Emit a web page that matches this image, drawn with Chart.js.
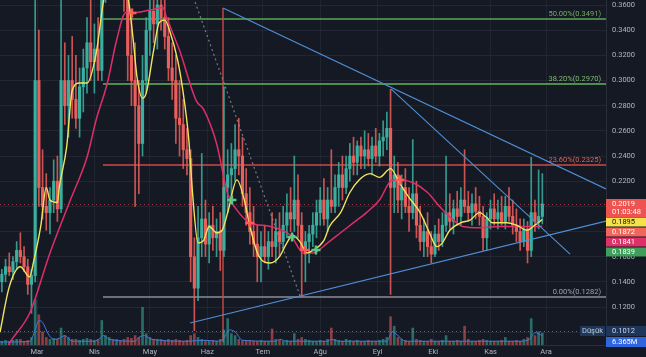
<!DOCTYPE html>
<html><head><meta charset="utf-8">
<script src="https://cdn.jsdelivr.net/npm/chart.js@4.4.1/dist/chart.umd.min.js"></script>
<style>html,body{margin:0;padding:0;background:#151924;overflow:hidden}canvas{display:block}</style>
</head><body>
<canvas id="c" width="646" height="357"></canvas>
<script>
// ---- data (day of year, 2021) ----
const candleDays = [40,42,44,46,48,50,52,54,56,58,60,62,64,66,68,70,72,74,76,78,80,82,84,86,88,90,92,94,96,98,100,102,104,106,108,110,112,114,116,118,120,122,124,126,128,130,132,134,136,138,140,142,144,146,148,150,152,154,156,158,160,162,164,166,168,170,172,174,176,178,180,182,184,186,188,190,192,194,196,198,200,202,204,206,208,210,212,214,216,218,220,222,224,226,228,230,232,234,236,238,240,242,244,246,248,250,252,254,256,258,260,262,264,266,268,270,272,274,276,278,280,282,284,286,288,290,292,294,296,298,300,302,304,306,308,310,312,314,316,318,320,322,324,326,328,330,332];
const opens = [.140,.146,.152,.148,.156,.165,.160,.152,.138,
 .145,.300,.215,.200,.195,.205,.220,.198,.300,
 .280,.300,.285,.270,.295,.310,.330,.315,.325,
 .308,.365,.385,.395,.385,.400,.380,.370,.320,
 .300,.280,.250,.300,.340,.355,.345,.360,.350,
 .335,.310,.300,.270,.265,.245,.238,.160,.135,
 .175,.190,.170,.185,.175,.180,.165,.215,.225,
 .230,.245,.240,.210,.195,.180,.170,.160,.168,
 .160,.172,.168,.180,.172,.185,.195,.190,.205,
 .185,.165,.172,.178,.185,.195,.205,.190,.205,
 .200,.215,.225,.215,.230,.240,.235,.248,.240,
 .245,.238,.248,.240,.252,.255,.262,.215,.225,
 .205,.215,.200,.195,.210,.185,.172,.180,.168,
 .162,.178,.172,.185,.195,.188,.198,.192,.205,
 .200,.195,.202,.196,.192,.175,.190,.198,.190,
 .195,.188,.200,.192,.185,.180,.172,.182,.165,
 .195,.188,.192];
const highs = [.150,.158,.163,.160,.172,.179,.168,.158,.150,
 .400,.340,.245,.226,.215,.237,.240,.380,.330,
 .320,.335,.320,.310,.325,.350,.370,.345,.350,
 .385,.400,.410,.420,.415,.420,.405,.385,.355,
 .330,.300,.320,.350,.370,.380,.375,.385,.370,
 .350,.330,.320,.300,.285,.262,.245,.175,.200,
 .242,.205,.195,.200,.190,.195,.295,.245,.250,
 .265,.270,.255,.230,.215,.200,.185,.180,.185,
 .180,.195,.190,.195,.200,.210,.215,.240,.225,
 .195,.180,.185,.195,.205,.215,.222,.215,.245,
 .225,.235,.240,.240,.250,.255,.252,.255,.260,
 .258,.255,.262,.258,.268,.275,.293,.240,.235,
 .225,.230,.215,.253,.220,.200,.190,.195,.180,
 .185,.190,.195,.240,.210,.205,.212,.215,.245,
 .212,.210,.215,.208,.200,.195,.205,.210,.205,
 .208,.208,.215,.205,.198,.190,.190,.188,.239,
 .205,.229,.226];
const lows = [.132,.140,.145,.142,.150,.155,.148,.130,.115,
 .140,.200,.190,.181,.178,.195,.188,.195,.265,
 .255,.270,.262,.255,.275,.290,.300,.290,.300,
 .300,.362,.370,.375,.370,.372,.355,.300,.280,
 .200,.210,.240,.290,.320,.330,.325,.340,.325,
 .300,.285,.250,.240,.230,.225,.140,.1012,.125,
 .160,.160,.155,.165,.160,.149,.160,.195,.205,
 .220,.225,.200,.185,.170,.160,.140,.140,.155,
 .150,.160,.155,.160,.165,.175,.180,.180,.175,
 .128,.140,.155,.168,.175,.185,.185,.180,.195,
 .195,.200,.205,.210,.220,.225,.225,.230,.230,
 .232,.225,.235,.232,.240,.245,.130,.195,.195,
 .190,.195,.180,.190,.175,.165,.160,.160,.155,
 .160,.165,.168,.180,.182,.178,.185,.185,.195,
 .188,.185,.190,.185,.165,.165,.182,.185,.182,
 .185,.182,.188,.178,.172,.165,.168,.155,.160,
 .180,.182,.186];
const closes = [.146,.152,.148,.156,.165,.160,.152,.138,.145,
 .300,.215,.200,.195,.205,.220,.198,.300,.280,
 .300,.285,.270,.295,.310,.330,.315,.325,.308,
 .365,.385,.395,.385,.400,.380,.370,.320,.300,
 .280,.250,.300,.340,.355,.345,.360,.350,.335,
 .310,.300,.270,.265,.245,.238,.160,.135,.175,
 .190,.170,.185,.175,.180,.165,.215,.225,.230,
 .245,.240,.210,.195,.180,.170,.160,.168,.160,
 .172,.168,.180,.172,.185,.195,.190,.205,.185,
 .165,.172,.178,.185,.195,.205,.190,.205,.200,
 .215,.225,.215,.230,.240,.235,.248,.240,.245,
 .238,.248,.240,.252,.255,.262,.215,.225,.205,
 .215,.200,.195,.210,.185,.172,.180,.168,.162,
 .178,.172,.185,.195,.188,.198,.192,.205,.200,
 .195,.202,.196,.192,.175,.190,.198,.190,.195,
 .188,.200,.192,.185,.180,.172,.182,.165,.195,
 .188,.192,.2019];
const volumes = [2,2.5,2,2.5,3,3,2,2.5,4,
 24,16,7,4,3,3.5,3,9,5,
 4,3,3,2.5,3,3.5,3,2.5,3,
 13,5,4,3,3,2.5,3,4,3.5,
 5,4,20,6,4,3,3,3,2.5,
 3,2.5,3,2.5,2,2.5,5,6,4,
 3,2.5,2,2.5,2,3,8,14,6,
 5,3,2.5,2,2.5,2,2,2.5,2,
 2,8.5,3,2.5,2,2.5,2,6,3,
 4,3,2.5,2,2,2.5,2,3,9,
 3,2.5,2,3,2.5,2,2.5,2,2,
 2.5,2,2,2.5,3,4,15,10,4,
 3,2.5,2,9,3,2.5,2,2,3,
 2,2,2.5,5,2,2,2.5,2,10,
 3,2,2,2.5,3,2.5,2,2,2,
 2.5,4,2,2,2.5,2,3,4,14,
 5,7,6.365];

const fastMaDays = [39,44,50,55,57,61,64,66,70,71,75,78,82,86,91,95,98,104,108,111,113,116,118,122,125,128,131,135,138,141,143,146,149,152,156,159,162,167,171,174,179,185,190,194,197,201,205,208,214,217,223,228,233,239,244,250,255,260,266,271,275,278,282,288,293,298,302,305,313,318,324,327,332];
const fastMaValues = [.100,.136,.152,.144,.155,.184,.215,.205,.203,.215,.247,.292,.298,.298,.322,.364,.380,.384,.368,.332,.303,.286,.290,.324,.346,.348,.338,.316,.290,.253,.211,.171,.173,.184,.179,.181,.195,.221,.205,.184,.160,.155,.160,.171,.177,.172,.163,.165,.173,.184,.195,.211,.221,.226,.223,.230,.218,.207,.195,.179,.168,.171,.181,.187,.189,.195,.191,.187,.187,.185,.181,.184,.1895];
const slowMaDays = [39,44,55,66,77,86,91,97,102,107,111,120,127,129,136,145,149,156,162,167,174,185,196,203,208,216,223,230,237,244,251,255,262,270,277,284,289,298,309,316,324,332];
const slowMaValues = [.076,.091,.115,.163,.205,.239,.269,.298,.332,.354,.354,.356,.358,.350,.324,.284,.277,.250,.210,.197,.187,.184,.177,.163,.163,.171,.179,.187,.195,.205,.221,.221,.219,.211,.199,.189,.184,.183,.184,.184,.184,.1841];
const volMaDays = [39,55,58,60,62,65,68,71,74,78,90,93,95,98,112,114,117,121,140,150,157,160,163,166,170,188,190,194,216,218,222,248,251,254,258,320,325,328,332];
const volMaValues = [1.6,1.8,8,13,12,6,3,3.5,5,2,2,3.5,5,3,2,4,5,3,2,2.5,2,3.5,8,7,2.5,2,3,2,2,3,2,2,7,5,2,2,3,6.5,5];

const crossDays = [110.3,164.3,174,196.8,203.8,209.7,255];
const crossValues = [.3537,.205,.1867,.1756,.1653,.1653,.221];
const crossKinds = ['down','up','down','up','down','up','down'];

const monthDays = [59,90,120,151,181,212,243,273,304,334];
const monthLabels = ['Mar','Nis','May','Haz','Tem','Ağu','Eyl','Eki','Kas','Ara'];
const priceTicks = [0.10,0.12,0.14,0.16,0.18,0.20,0.22,0.24,0.26,0.28,0.30,0.32,0.34,0.36];

const fibLevels = [0.3491,0.2970,0.2325,0.1282];
const fibLabels = ['50.00%(0.3491)','38.20%(0.2970)','23.60%(0.2325)','0.00%(0.1282)'];
const fibStartDay = 94.7;

const trendStartDays = [159.5,250.2,141.7,144.4];
const trendStartValues = [0.3576,0.2933,0.1073,0.3624];
const trendEndDays = [366.4,347,366.4,201.1];
const trendEndValues = [0.2138,0.1621,0.1883,0.1287];
const markerLineDay = 159.5;
const markerLineValues = [0.3576,0.092];

const lastPrice = 0.2019;
const countdown = '01:03:48';
const sideValues = [0.1895,0.1872,0.1841,0.1839];
const lowPrice = 0.1012;
const lowText = 'Düşük';
const lastVolume = '6.365M';

// ---- styles ----
const BG = '#151924';
const UP = '#3bb0a0', DOWN = '#ea5f5c';
const FONT = 'Roboto, "Liberation Sans", sans-serif';
Chart.defaults.font.family = FONT;

const dirColor = closes.map((c,i)=> c>=opens[i] ? UP : DOWN);
const volColor = closes.map((c,i)=> c>=opens[i] ? 'rgba(59,176,160,0.55)' : 'rgba(234,95,92,0.55)');
const fibColors = ['#5aa856','#62b45e','#cc4a46','#8a8e99'];
const fibTextColors = ['#74ab62','#80b86f','#e0625c','#9ea2ab'];
const sideColors = ['#f5e24a','#f2655b','#e0306a','#3f9f5a'];
const sideText = ['#111','#fff','#fff','#fff'];

const X_MIN = 39, X_MAX = 366.4;

const datasets = [];
// crosses
datasets.push({type:'line', order:1, showLine:false, data: crossDays.map((d,i)=>({x:d,y:crossValues[i]})),
  pointStyle:'cross', pointRadius:4.5, pointBorderWidth:2.5,
  pointBorderColor: crossKinds.map(k=>k==='up'?'#59c98a':'#ff5a5a'), pointBackgroundColor:'transparent'});
// trend lines
for (let i=0;i<trendStartDays.length;i++){
  const dotted = i===3;
  datasets.push({type:'line', order:5, data:[{x:trendStartDays[i],y:trendStartValues[i]},{x:trendEndDays[i],y:trendEndValues[i]}],
    borderColor: dotted ? 'rgba(150,155,165,0.75)' : '#4f8fd6', borderWidth: dotted?1.2:1.1,
    borderDash: dotted?[2,3]:[], pointRadius:0});
}
// moving averages
datasets.push({type:'line', order:8, data: fastMaDays.map((d,i)=>({x:d,y:fastMaValues[i]})),
  borderColor:'#f2e45c', borderWidth:1.4, pointRadius:0, cubicInterpolationMode:'monotone'});
datasets.push({type:'line', order:9, data: slowMaDays.map((d,i)=>({x:d,y:slowMaValues[i]})),
  borderColor:'#dc2f6a', borderWidth:1.5, pointRadius:0, cubicInterpolationMode:'monotone'});
// candles
datasets.push({type:'bar', order:20, grouped:false, data: candleDays.map((d,i)=>({x:d,y:[opens[i],closes[i]]})),
  backgroundColor: dirColor, barThickness:2.5, minBarLength:1, borderWidth:0});
datasets.push({type:'bar', order:21, grouped:false, data: candleDays.map((d,i)=>({x:d,y:[lows[i],highs[i]]})),
  backgroundColor: dirColor.map(c=>c===UP?'rgba(59,176,160,0.85)':'rgba(234,95,92,0.85)'), barThickness:1, borderWidth:0});
// volume
datasets.push({type:'line', order:40, yAxisID:'yv', data: volMaDays.map((d,i)=>({x:d,y:volMaValues[i]})),
  borderColor:'#3f7be0', borderWidth:1, pointRadius:0, cubicInterpolationMode:'monotone'});
datasets.push({type:'bar', order:50, yAxisID:'yv', grouped:false, data: candleDays.map((d,i)=>({x:d,y:volumes[i]})),
  backgroundColor: volColor, barThickness:2, borderWidth:0});

const crisp = v => Math.round(v) + 0.5;

const overlay = {
  id:'overlay',
  beforeDraw(chart){ const c=chart.ctx; c.save(); c.fillStyle=BG; c.fillRect(0,0,chart.width,chart.height); c.restore(); },
  beforeDatasetsDraw(chart){
    const {ctx, chartArea:a, scales:{x,y}} = chart;
    ctx.save();
    // fib levels
    ctx.lineWidth=1.6;
    const fx = Math.round(x.getPixelForValue(fibStartDay));
    fibLevels.forEach((v,i)=>{ const yy=Math.round(y.getPixelForValue(v)); ctx.strokeStyle=fibColors[i];
      ctx.beginPath(); ctx.moveTo(fx,yy); ctx.lineTo(a.right,yy); ctx.stroke(); });
    // vertical marker
    ctx.lineWidth=1.4;
    const mx = Math.round(x.getPixelForValue(markerLineDay));
    ctx.strokeStyle='#cc4a46'; ctx.beginPath();
    ctx.moveTo(mx, y.getPixelForValue(markerLineValues[0])); ctx.lineTo(mx, y.getPixelForValue(markerLineValues[1])); ctx.stroke();
    // dotted price lines
    ctx.lineWidth=1; ctx.setLineDash([1,3]);
    let yy = crisp(y.getPixelForValue(lastPrice));
    ctx.strokeStyle='rgba(239,83,80,0.6)'; ctx.beginPath(); ctx.moveTo(a.left,yy); ctx.lineTo(a.right,yy); ctx.stroke();
    yy = crisp(y.getPixelForValue(lowPrice));
    ctx.strokeStyle='rgba(160,165,175,0.55)'; ctx.beginPath(); ctx.moveTo(a.left,yy); ctx.lineTo(a.right,yy); ctx.stroke();
    ctx.restore();
  },
  afterDatasetsDraw(chart){
    const {ctx, chartArea:a, scales:{y}} = chart;
    ctx.save(); ctx.font = '7.5px '+FONT; ctx.textAlign='right'; ctx.textBaseline='bottom';
    fibLevels.forEach((v,i)=>{ ctx.fillStyle=fibTextColors[i]; ctx.fillText(fibLabels[i], a.right-5, Math.round(y.getPixelForValue(v))-1); });
    ctx.restore();
  },
  afterDraw(chart){
    const {ctx, chartArea:a, scales:{y}} = chart;
    const x0 = a.right, w = chart.width - a.right;
    ctx.save(); ctx.font='7.5px '+FONT; ctx.textBaseline='middle'; ctx.textAlign='left';
    const box=(top,h,col)=>{ ctx.fillStyle=col; ctx.fillRect(x0,top,w,h); };
    let top = Math.round(y.getPixelForValue(lastPrice)) - 5;
    box(top,18,'#ef5350'); ctx.fillStyle='#fff';
    ctx.fillText(lastPrice.toFixed(4), x0+6, top+5); ctx.fillText(countdown, x0+6, top+13.5);
    top += 18;
    sideValues.forEach((v,i)=>{ box(top+0.5,9,sideColors[i]); ctx.fillStyle=sideText[i]; ctx.fillText(v.toFixed(4), x0+6, top+5); top+=10; });
    const ly = Math.round(y.getPixelForValue(lowPrice));
    box(ly-5,10,'#1d3659'); ctx.fillStyle='#d1d4dc'; ctx.fillText(lowPrice.toFixed(4), x0+6, ly);
    ctx.fillStyle='#1d3659'; ctx.fillRect(x0-26, ly-5, 25, 10);
    ctx.fillStyle='#c8ccd6'; ctx.textAlign='center'; ctx.fillText(lowText, x0-13.5, ly);
    ctx.textAlign='left';
    box(ly+6,10,'#2f66e0'); ctx.fillStyle='#fff'; ctx.fillText(lastVolume, x0+6, ly+11);
    ctx.restore();
  }
};

new Chart(document.getElementById('c'), {
  type:'bar',
  data:{datasets},
  options:{
    responsive:false, devicePixelRatio:1, animation:false,
    layout:{padding:0, autoPadding:false},
    plugins:{legend:{display:false}, tooltip:{enabled:false}},
    scales:{
      x:{type:'linear', min:X_MIN, max:X_MAX, offset:false, position:'bottom',
        grid:{color:'rgba(48,52,64,0.45)', drawTicks:false, offset:false},
        border:{display:true, color:'#2a2e39'},
        ticks:{color:'#b2b5be', font:{size:7.5}, padding:3, autoSkip:false, maxRotation:0,
          callback:(v)=>{ const k=monthDays.indexOf(v); return k>=0?monthLabels[k]:''; }},
        afterBuildTicks:(s)=>{ s.ticks = monthDays.map(v=>({value:v})); },
        afterFit:(s)=>{ s.height=12; s.paddingLeft=0; s.paddingRight=0; }},
      y:{type:'linear', position:'right', min:0.0898, max:0.364,
        grid:{color:'rgba(48,52,64,0.5)', drawTicks:false},
        border:{display:true, color:'#2a2e39'},
        ticks:{color:'#b2b5be', font:{size:7.5}, padding:6, autoSkip:false, includeBounds:false,
          callback:(v)=>Number(v).toFixed(4)},
        afterBuildTicks:(s)=>{ s.ticks = priceTicks.map(v=>({value:v})); },
        afterFit:(s)=>{ s.width=40; s.paddingTop=0; s.paddingBottom=0; }},
      yv:{type:'linear', display:false, min:0, max:183}
    }
  },
  plugins:[overlay]
});
</script>
</body></html>
